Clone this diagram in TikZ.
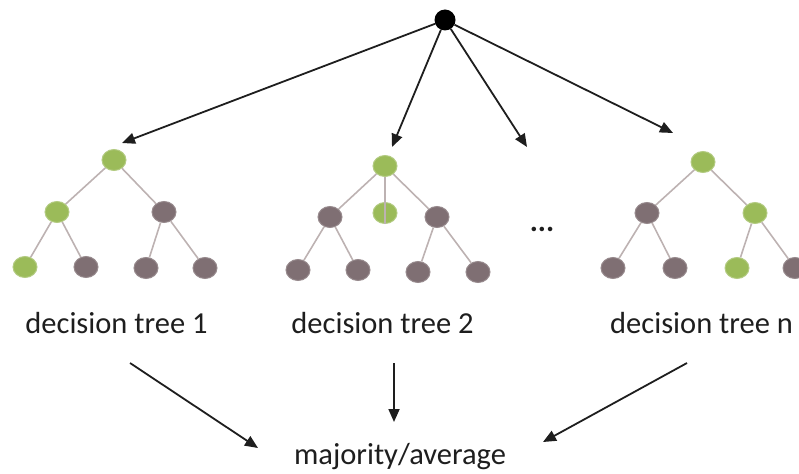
\documentclass[tikz,border=0pt]{standalone}
\usepackage{fontspec}
\setmainfont{Carlito}
\usetikzlibrary{shapes.geometric,arrows.meta}

\definecolor{leafgreen}{HTML}{9BBB59}
\definecolor{leafgreenrim}{HTML}{B3CB82}
\definecolor{leafgray}{HTML}{7F6F73}
\definecolor{leafgrayrim}{HTML}{978A8D}
\definecolor{branch}{HTML}{BDB2B2}
\definecolor{ink}{HTML}{1E1E1E}

\tikzset{
  gnode/.style={ellipse, fill=leafgreen, draw=leafgreenrim, line width=1pt,
                minimum width=24pt, minimum height=21pt, inner sep=0pt},
  pnode/.style={ellipse, fill=leafgray, draw=leafgrayrim, line width=1pt,
                minimum width=24pt, minimum height=21pt, inner sep=0pt},
  edge/.style={draw=branch, line width=1.6pt},
  flow/.style={draw=ink, line width=1.8pt, -{Triangle[length=13pt,width=11pt]}},
  label/.style={font=\fontsize{30.5}{34}\selectfont, text=ink, inner sep=0pt},
}

\begin{document}
\begin{tikzpicture}[x=1pt, y=-1pt]
  \useasboundingbox (0,0) rectangle (799,473);
  \clip (0,0) rectangle (799,473);

  % ensemble root
  \node[circle, fill=black, minimum size=21pt, inner sep=0pt] (root) at (445,20) {};

  % decision tree 1
  \node[gnode] (a0) at (114,160) {};
  \node[gnode] (a1) at (57,212) {};
  \node[pnode] (a2) at (164,212) {};
  \node[gnode] (a3) at (25,267) {};
  \node[pnode] (a4) at (86,267) {};
  \node[pnode] (a5) at (146,268) {};
  \node[pnode] (a6) at (205,268) {};
  \draw[edge] (a0) -- (a1);
  \draw[edge] (a0) -- (a2);
  \draw[edge] (a1) -- (a3);
  \draw[edge] (a1) -- (a4);
  \draw[edge] (a2) -- (a5);
  \draw[edge] (a2) -- (a6);

  % decision tree 2
  \node[gnode] (b0) at (385,166) {};
  \node[pnode] (b1) at (330,217) {};
  \node[gnode] (b2) at (385,213) {};
  \node[pnode] (b3) at (437,217) {};
  \node[pnode] (b4) at (298,270) {};
  \node[pnode] (b5) at (358,270) {};
  \node[pnode] (b6) at (418,272) {};
  \node[pnode] (b7) at (478,272) {};
  \draw[edge] (b0) -- (b1);
  \draw[edge] (b0) -- (b3);
  \draw[edge] (b0.south) -- (b2.south);
  \draw[edge] (b1) -- (b4);
  \draw[edge] (b1) -- (b5);
  \draw[edge] (b3) -- (b6);
  \draw[edge] (b3) -- (b7);

  % decision tree n
  \node[gnode] (c0) at (703,162) {};
  \node[pnode] (c1) at (647,213) {};
  \node[gnode] (c2) at (755,213) {};
  \node[pnode] (c3) at (613,268) {};
  \node[pnode] (c4) at (675,268) {};
  \node[gnode] (c5) at (737,268) {};
  \node[pnode] (c6) at (795,268) {};
  \draw[edge] (c0) -- (c1);
  \draw[edge] (c0) -- (c2);
  \draw[edge] (c1) -- (c3);
  \draw[edge] (c1) -- (c4);
  \draw[edge] (c2) -- (c5);
  \draw[edge] (c2) -- (c6);

  % elided trees
  \node[label, anchor=base] (dots) at (542,231) {\textbf{...}};

  % sampling arrows from the root
  \coordinate (s1) at (122,143);
  \coordinate (s2) at (392,147);
  \coordinate (s3) at (527,147);
  \coordinate (s4) at (673,133);
  \draw[flow] (root) -- (s1);
  \draw[flow] (root) -- (s2);
  \draw[flow] (root) -- (s3);
  \draw[flow] (root) -- (s4);

  % tree labels
  \node[label, anchor=base] (l1) at (116.5,333) {decision tree 1};
  \node[label, anchor=base] (l2) at (382.5,333) {decision tree 2};
  \node[label, anchor=base west] (ln) at (610,333) {decision tree n};
  \node[label, anchor=base] (vote) at (400,464) {majority/average};

  % aggregation arrows
  \coordinate (u1) at (130,363);
  \coordinate (u2) at (394,363);
  \coordinate (u3) at (687,363);
  \coordinate (v1) at (258,448);
  \coordinate (v2) at (394,422);
  \coordinate (v3) at (543,442);
  \draw[flow] (u1) -- (v1);
  \draw[flow] (u2) -- (v2);
  \draw[flow] (u3) -- (v3);
\end{tikzpicture}
\end{document}
